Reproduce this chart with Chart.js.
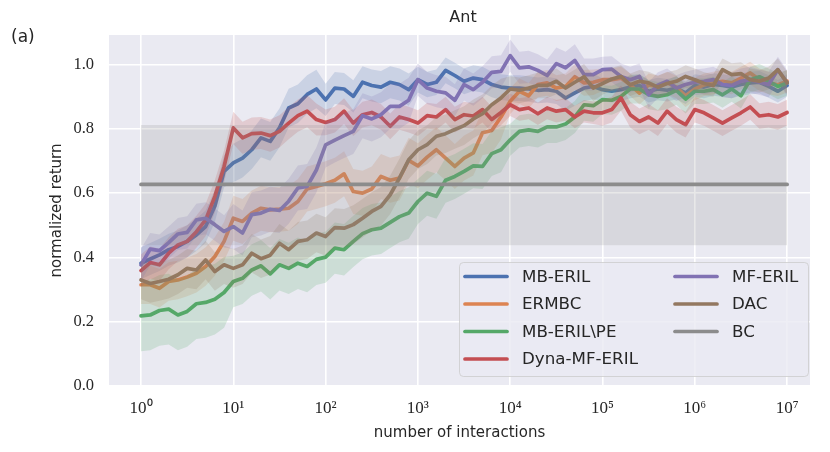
<!DOCTYPE html>
<html>
<head>
<meta charset="utf-8">
<script src="https://cdn.jsdelivr.net/npm/chart.js@4.4.0/dist/chart.umd.min.js"></script>
<style>
  html, body { margin: 0; padding: 0; background: #fff; }
  #wrap { width: 830px; height: 452px; }
</style>
</head>
<body>
<div id="wrap"><canvas id="c" width="830" height="452"></canvas></div>
<script>
// evaluation grid: 10 points per decade, 10^0 .. 10^7
var nSteps = 70;
var xs = [];
for (var i = 0; i <= nSteps; i++) xs.push(Math.pow(10, i / 10));

var tickExps = [0, 1, 2, 3, 4, 5, 6, 7];
var supDigits = ['\u2070', '\u00b9', '\u00b2', '\u00b3', '\u2074', '\u2075', '\u2076', '\u2077'];
var yTicks = [0, 0.2, 0.4, 0.6, 0.8, 1.0];

var mbEril = [0.382,0.395,0.408,0.424,0.434,0.45,0.47,0.496,0.56,0.668,
  0.694,0.709,0.735,0.772,0.761,0.803,0.865,0.878,0.907,0.924,
  0.89,0.927,0.924,0.901,0.945,0.935,0.93,0.945,0.938,0.922,
  0.953,0.938,0.945,0.982,0.966,0.948,0.958,0.953,0.938,0.93,
  0.927,0.927,0.924,0.92,0.922,0.917,0.896,0.912,0.927,0.932,
  0.922,0.917,0.922,0.93,0.935,0.917,0.924,0.92,0.927,0.912,
  0.935,0.93,0.938,0.935,0.93,0.938,0.943,0.945,0.932,0.917,0.935];
var ermbc = [0.315,0.315,0.304,0.325,0.33,0.339,0.351,0.372,0.403,0.45,
  0.522,0.512,0.538,0.553,0.548,0.55,0.553,0.574,0.613,0.621,
  0.629,0.64,0.66,0.605,0.6,0.613,0.652,0.64,0.647,0.702,
  0.685,0.712,0.735,0.709,0.683,0.709,0.725,0.788,0.795,0.837,
  0.886,0.917,0.903,0.938,0.943,0.927,0.932,0.962,0.943,0.945,
  0.953,0.953,0.958,0.937,0.911,0.937,0.93,0.943,0.93,0.903,
  0.924,0.937,0.943,0.948,0.943,0.958,0.974,0.953,0.943,0.937,0.948];
var mbErilPe = [0.218,0.221,0.235,0.239,0.221,0.232,0.256,0.26,0.27,0.291,
  0.325,0.335,0.361,0.374,0.349,0.377,0.366,0.382,0.372,0.394,
  0.401,0.429,0.424,0.45,0.474,0.486,0.491,0.509,0.527,0.538,
  0.574,0.6,0.59,0.64,0.652,0.668,0.685,0.683,0.723,0.735,
  0.766,0.792,0.797,0.792,0.806,0.806,0.815,0.837,0.875,0.872,
  0.891,0.889,0.901,0.924,0.924,0.906,0.901,0.906,0.92,0.893,
  0.917,0.917,0.922,0.906,0.924,0.903,0.953,0.962,0.948,0.932,0.943];
var dynaMfEril = [0.359,0.384,0.377,0.413,0.439,0.45,0.48,0.517,0.59,0.683,
  0.803,0.772,0.785,0.787,0.779,0.792,0.818,0.841,0.855,0.829,
  0.82,0.829,0.855,0.818,0.844,0.851,0.837,0.808,0.837,0.829,
  0.818,0.841,0.837,0.86,0.829,0.844,0.84,0.86,0.829,0.851,
  0.875,0.86,0.865,0.847,0.865,0.855,0.86,0.837,0.855,0.85,
  0.85,0.86,0.896,0.844,0.823,0.837,0.818,0.855,0.829,0.813,
  0.86,0.85,0.834,0.818,0.834,0.85,0.868,0.84,0.844,0.837,0.851];
var mfEril = [0.377,0.426,0.421,0.446,0.473,0.478,0.517,0.522,0.502,0.481,
  0.496,0.476,0.533,0.538,0.55,0.546,0.575,0.616,0.621,0.672,
  0.75,0.765,0.779,0.792,0.841,0.831,0.844,0.87,0.87,0.889,
  0.953,0.927,0.917,0.912,0.889,0.938,0.922,0.945,0.976,0.979,
  1.028,0.99,0.993,0.982,0.966,1.003,0.99,1.013,0.969,0.969,
  0.984,0.986,0.963,0.953,0.963,0.906,0.936,0.948,0.927,0.938,
  0.945,0.948,0.953,0.938,0.935,0.948,0.953,0.945,0.938,0.984,0.943];
var dac = [0.33,0.319,0.325,0.332,0.346,0.366,0.361,0.392,0.356,0.377,
  0.366,0.377,0.413,0.396,0.407,0.444,0.424,0.45,0.455,0.476,
  0.465,0.493,0.491,0.502,0.522,0.543,0.559,0.595,0.647,0.704,
  0.735,0.751,0.777,0.785,0.798,0.81,0.831,0.847,0.875,0.896,
  0.924,0.92,0.927,0.935,0.935,0.948,0.927,0.945,0.962,0.927,
  0.941,0.955,0.963,0.937,0.948,0.943,0.93,0.941,0.948,0.963,
  0.953,0.941,0.935,0.984,0.969,0.972,0.953,0.948,0.958,0.984,0.943];
var bcMean = 0.627, bcLow = 0.438, bcHigh = 0.812;

// half-width of shaded band, one value per decade
var spreadMbEril = [0.05, 0.06, 0.05, 0.04, 0.04, 0.035, 0.035, 0.035];
var spreadErmbc = [0.06, 0.07, 0.07, 0.07, 0.04, 0.035, 0.035, 0.035];
var spreadPe = [0.11, 0.08, 0.08, 0.07, 0.05, 0.045, 0.04, 0.04];
var spreadDyna = [0.05, 0.05, 0.04, 0.04, 0.035, 0.04, 0.04, 0.04];
var spreadMf = [0.05, 0.07, 0.07, 0.05, 0.05, 0.04, 0.04, 0.04];
var spreadDac = [0.06, 0.06, 0.06, 0.06, 0.04, 0.035, 0.035, 0.035];

var series = [
  { name: 'MB-ERIL', vals: mbEril, spread: spreadMbEril, color: '76,114,176' },
  { name: 'ERMBC', vals: ermbc, spread: spreadErmbc, color: '221,132,82' },
  { name: 'MB-ERIL\\PE', vals: mbErilPe, spread: spreadPe, color: '85,168,104' },
  { name: 'Dyna-MF-ERIL', vals: dynaMfEril, spread: spreadDyna, color: '196,78,82' },
  { name: 'MF-ERIL', vals: mfEril, spread: spreadMf, color: '129,114,179' },
  { name: 'DAC', vals: dac, spread: spreadDac, color: '147,120,96' }
];

var lineW = 3.7;
var datasets = [];
var ord = 20;
series.forEach(function (s) {
  var lo = s.vals.map(function (v, i) { return { x: xs[i], y: v - s.spread[Math.floor(i / 10)] }; });
  var hi = s.vals.map(function (v, i) { return { x: xs[i], y: v + s.spread[Math.floor(i / 10)] }; });
  datasets.push({ data: lo, borderWidth: 0, pointRadius: 0, fill: false, order: ord });
  datasets.push({ data: hi, borderWidth: 0, pointRadius: 0, fill: '-1',
    backgroundColor: 'rgba(' + s.color + ',0.2)', order: ord });
  ord--;
  datasets.push({ data: s.vals.map(function (v, i) { return { x: xs[i], y: v }; }),
    borderColor: 'rgb(' + s.color + ')', borderWidth: lineW, pointRadius: 0,
    fill: false, borderJoinStyle: 'round', borderCapStyle: 'round', order: ord });
  ord--;
});
// BC: constant mean with band
datasets.push({ data: [{ x: 1, y: bcLow }, { x: 1e7, y: bcLow }], borderWidth: 0, pointRadius: 0, fill: false, order: ord });
datasets.push({ data: [{ x: 1, y: bcHigh }, { x: 1e7, y: bcHigh }], borderWidth: 0, pointRadius: 0, fill: '-1',
  backgroundColor: 'rgba(140,140,140,0.2)', order: ord });
ord--;
datasets.push({ data: [{ x: 1, y: bcMean }, { x: 1e7, y: bcMean }], borderColor: 'rgb(140,140,140)',
  borderWidth: lineW, pointRadius: 0, fill: false, borderCapStyle: 'round', order: ord });

var textCol = '#262626';

var decoPlugin = {
  id: 'deco',
  beforeDraw: function (chart) {
    var a = chart.chartArea, ctx = chart.ctx;
    ctx.save();
    ctx.fillStyle = '#eaeaf2';
    ctx.fillRect(a.left, a.top, a.right - a.left, a.bottom - a.top);
    ctx.restore();
  },
  afterDraw: function (chart) {
    var ctx = chart.ctx;
    ctx.save();
    ctx.fillStyle = textCol;
    ctx.font = '16px "DejaVu Sans"';
    ctx.textAlign = 'center';
    ctx.textBaseline = 'middle';
    ctx.fillText('Ant', 463, 18);
    ctx.textAlign = 'left';
    ctx.font = '17px "DejaVu Sans"';
    ctx.fillText('(a)', 11, 38);

    // legend box
    ctx.beginPath();
    ctx.roundRect(459.5, 262.5, 349, 114, 4);
    ctx.fillStyle = 'rgba(234,234,242,0.8)';
    ctx.fill();
    ctx.strokeStyle = 'rgba(204,204,204,0.8)';
    ctx.lineWidth = 1;
    ctx.stroke();

    var items = series.map(function (s) { return { name: s.name, color: 'rgb(' + s.color + ')' }; });
    items.push({ name: 'BC', color: 'rgb(140,140,140)' });
    ctx.font = '16.7px "DejaVu Sans"';
    ctx.textBaseline = 'middle';
    items.forEach(function (it, k) {
      var col = k < 4 ? 0 : 1, row = k < 4 ? k : k - 4;
      var lx = col === 0 ? 465 : 675;
      var ty = 276.5 + 27.5 * row;
      ctx.beginPath();
      ctx.moveTo(lx, ty);
      ctx.lineTo(lx + 42, ty);
      ctx.strokeStyle = it.color;
      ctx.lineWidth = lineW;
      ctx.lineCap = 'round';
      ctx.stroke();
      ctx.fillStyle = textCol;
      ctx.fillText(it.name, lx + 57, ty + 1);
    });
    ctx.restore();
  }
};

new Chart(document.getElementById('c'), {
  type: 'line',
  data: { datasets: datasets },
  plugins: [decoPlugin],
  options: {
    responsive: false,
    animation: false,
    layout: { padding: { top: 35, right: 20, bottom: 0, left: 0 } },
    plugins: { legend: { display: false }, tooltip: { enabled: false } },
    elements: { line: { tension: 0 } },
    scales: {
      x: {
        type: 'logarithmic',
        min: 0.45,
        max: 1.77e7,
        afterBuildTicks: function (s) {
          s.ticks = tickExps.map(function (k) { return { value: Math.pow(10, k) }; });
        },
        afterFit: function (s) { s.height = 66; },
        ticks: {
          autoSkip: false, maxRotation: 0, padding: 12, color: textCol,
          font: { family: '"Liberation Serif"', size: 17 },
          callback: function (v) { return '10' + supDigits[Math.round(Math.log10(v))]; }
        },
        grid: { color: '#ffffff', lineWidth: 1.6, drawTicks: false },
        border: { display: false },
        title: { display: true, text: 'number of interactions', color: textCol,
          font: { family: '"DejaVu Sans"', size: 15 }, padding: { top: 0, bottom: 10 } }
      },
      y: {
        min: 0,
        max: 1.092,
        afterBuildTicks: function (s) {
          s.ticks = yTicks.map(function (v) { return { value: v }; });
        },
        afterFit: function (s) { s.width = 109; },
        ticks: {
          padding: 15, color: textCol,
          font: { family: '"Liberation Serif"', size: 16.5 },
          callback: function (v) { return v.toFixed(1); }
        },
        grid: { color: '#ffffff', lineWidth: 1.6, drawTicks: false },
        border: { display: false },
        title: { display: true, text: 'normalized return', color: textCol,
          font: { family: '"DejaVu Sans"', size: 15 }, padding: { top: 48, bottom: 0 } }
      }
    }
  }
});
</script>
</body>
</html>
